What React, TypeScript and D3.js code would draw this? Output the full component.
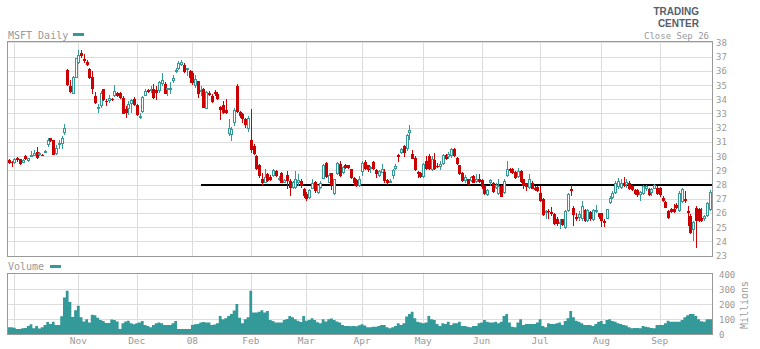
import React from "react";
import * as d3 from "d3";

// ---- Data (MSFT daily, Sep 27 2007 – Sep 26 2008) ----
const opens = [
  29.75, 29.6, 29.5, 29.85, 29.77, 29.55, 30.0, 29.65, 30.0, 30.0,
  30.3, 30.05, 30.1, 30.25, 30.75, 31.25, 31.1, 30.15, 30.77, 30.85,
  31.6, 36.06, 34.93, 34.4, 35.5, 36.58, 37.23, 36.8, 36.62, 36.1,
  35.6, 34.2, 33.38, 33.5, 34.7, 33.9, 33.88, 34.0, 34.23, 34.42,
  34.47, 34.11, 33.3, 33.3, 33.66, 34.0, 33.57, 32.78, 33.1, 34.23,
  34.63, 34.58, 34.75, 34.65, 34.58, 35.1, 35.1, 34.7, 34.65, 35.29,
  35.92, 36.1, 36.41, 36.39, 36.13, 35.98, 35.87, 34.93, 35.29, 34.5,
  34.75, 33.34, 34.47, 34.23, 34.51, 34.4, 33.43, 33.57, 33.24, 31.53,
  31.5, 32.35, 34.93, 33.1, 32.94, 32.58, 31.88, 31.1, 30.7, 30.0,
  29.35, 28.41, 28.13, 28.71, 28.55, 28.6, 28.95, 28.41, 28.83, 28.13,
  28.64, 28.24, 27.77, 27.77, 28.13, 28.24, 27.72, 27.35, 27.07, 27.7,
  28.17, 27.38, 27.77, 28.41, 29.49, 28.13, 28.78, 27.3, 28.71, 29.42,
  28.78, 29.37, 29.35, 29.07, 28.48, 28.31, 27.89, 28.88, 29.6, 29.35,
  29.2, 29.6, 29.0, 28.6, 28.83, 28.9, 28.31, 28.13, 28.6, 29.11,
  30.05, 30.2, 30.7, 30.47, 31.65, 30.12, 29.89, 28.88, 28.83, 28.55,
  29.65, 30.0, 29.02, 29.72, 29.3, 29.25, 29.42, 30.05, 29.96, 30.0,
  30.52, 29.89, 29.35, 28.83, 28.24, 28.36, 28.24, 28.6, 28.17, 28.41,
  28.31, 27.94, 27.26, 28.13, 28.13, 27.77, 27.3, 27.89, 27.38, 28.6,
  29.11, 29.11, 28.88, 28.55, 28.95, 28.36, 28.08, 27.77, 28.13, 27.75,
  27.82, 27.38, 27.0, 26.0, 26.15, 26.05, 25.9, 25.6, 25.2, 25.55,
  24.96, 26.13, 27.66, 26.37, 25.7, 25.66, 25.54, 26.2, 25.42, 26.06,
  25.5, 26.06, 25.97, 25.97, 25.42, 25.6, 26.67, 27.07, 27.38, 27.85,
  27.77, 28.08, 27.98, 28.08, 27.89, 27.61, 27.61, 27.23, 27.3, 27.66,
  27.66, 27.38, 27.7, 27.75, 27.75, 27.07, 26.79, 26.13, 26.25, 26.25,
  26.53, 26.13, 26.77, 26.96, 26.13, 25.78, 24.8, 26.37, 26.3, 25.66,
  25.54, 25.78, 26.2,
];
const highs = [
  29.8, 29.65, 29.85, 29.95, 29.8, 29.8, 30.05, 29.9, 30.35, 30.4,
  30.65, 30.3, 30.15, 30.4, 31.3, 31.3, 31.15, 30.75, 31.1, 31.4,
  32.25, 36.1, 35.35, 35.65, 36.9, 37.5, 37.5, 37.15, 36.75, 36.2,
  36.0, 34.5, 33.65, 34.58, 34.75, 34.05, 34.27, 34.1, 34.98, 34.5,
  34.5, 34.2, 33.53, 33.88, 34.0, 34.18, 33.64, 33.0, 34.23, 34.7,
  34.75, 34.93, 35.05, 34.93, 35.3, 35.87, 35.22, 34.82, 35.22, 35.7,
  36.23, 36.7, 36.74, 36.58, 36.2, 36.06, 35.99, 35.69, 35.29, 34.9,
  34.8, 34.58, 34.58, 34.35, 34.65, 34.5, 33.53, 33.88, 34.04, 32.58,
  32.07, 33.4, 35.05, 33.18, 33.06, 32.7, 32.82, 33.3, 30.82, 30.05,
  29.42, 28.8, 29.11, 28.8, 28.64, 29.1, 29.0, 28.6, 28.88, 28.36,
  28.95, 28.41, 28.24, 28.95, 28.71, 28.36, 27.77, 27.47, 27.66, 28.36,
  28.24, 28.0, 28.24, 29.42, 29.58, 28.83, 28.83, 28.41, 29.58, 29.65,
  29.3, 29.42, 29.4, 29.11, 28.53, 28.41, 28.6, 29.65, 29.7, 29.4,
  29.3, 29.65, 29.07, 29.0, 29.42, 29.07, 28.36, 28.36, 29.11, 29.42,
  30.12, 30.6, 30.75, 31.53, 32.16, 30.4, 30.0, 28.95, 28.88, 29.54,
  30.0, 30.12, 30.0, 30.2, 29.5, 29.65, 30.12, 30.12, 30.28, 30.6,
  30.6, 29.96, 29.4, 28.88, 28.64, 28.41, 28.6, 28.64, 28.71, 28.71,
  28.36, 28.0, 27.66, 28.36, 28.17, 28.13, 28.36, 27.94, 28.36, 29.65,
  29.18, 29.16, 28.95, 29.18, 29.02, 28.41, 28.13, 28.71, 28.24, 27.89,
  27.89, 27.89, 27.07, 26.2, 26.25, 26.4, 26.0, 25.7, 25.6, 25.6,
  26.2, 27.38, 27.94, 26.49, 26.0, 26.13, 26.84, 26.25, 26.25, 26.13,
  26.25, 26.53, 26.0, 26.0, 25.54, 26.3, 27.19, 27.54, 28.24, 28.48,
  28.41, 28.55, 28.36, 28.24, 27.94, 27.66, 27.66, 27.54, 27.96, 28.0,
  27.77, 27.77, 28.06, 27.89, 27.82, 27.19, 26.84, 26.2, 26.37, 26.6,
  26.72, 27.54, 27.77, 27.54, 26.48, 25.9, 25.42, 26.48, 26.37, 26.37,
  25.83, 26.77, 27.61,
];
const lows = [
  29.45, 29.23, 29.45, 29.6, 29.35, 29.5, 29.75, 29.6, 29.98, 29.98,
  29.8, 29.98, 29.98, 30.2, 30.65, 31.0, 30.05, 30.1, 30.5, 30.5,
  31.5, 34.93, 34.46, 34.38, 35.5, 36.5, 36.93, 36.58, 36.35, 35.4,
  34.4, 33.7, 33.05, 33.4, 33.9, 33.5, 33.76, 33.85, 34.18, 34.18,
  34.04, 32.94, 32.65, 32.87, 33.0, 33.52, 32.82, 32.6, 33.06, 34.2,
  34.47, 34.47, 34.0, 33.95, 34.47, 34.93, 34.35, 34.23, 34.35, 35.17,
  35.87, 36.06, 36.35, 35.87, 35.64, 35.17, 34.98, 34.82, 34.11, 34.2,
  33.35, 33.29, 34.23, 33.76, 34.23, 33.95, 32.52, 32.94, 32.94, 31.41,
  31.06, 32.12, 33.06, 32.7, 32.35, 32.0, 31.7, 30.24, 30.05, 29.0,
  28.48, 27.9, 28.08, 28.15, 28.24, 28.55, 28.5, 28.24, 28.08, 28.08,
  27.66, 27.19, 27.66, 27.72, 27.89, 27.77, 27.07, 26.84, 27.0, 27.66,
  27.42, 27.3, 27.7, 28.36, 28.48, 28.08, 27.61, 27.26, 28.64, 28.55,
  28.71, 29.1, 29.1, 28.41, 27.89, 27.85, 27.85, 28.6, 29.0, 28.9,
  28.83, 29.0, 28.48, 28.55, 28.78, 28.13, 27.97, 28.08, 28.36, 29.0,
  29.58, 30.12, 29.96, 30.36, 31.13, 29.77, 28.95, 28.48, 28.48, 28.48,
  29.02, 29.0, 28.95, 29.02, 29.18, 29.02, 29.35, 29.72, 29.82, 29.89,
  29.96, 29.35, 28.64, 28.17, 28.08, 27.97, 28.17, 28.08, 28.08, 28.08,
  27.72, 27.23, 27.19, 27.89, 27.42, 27.66, 27.23, 27.1, 27.3, 28.55,
  28.83, 28.71, 28.41, 28.48, 28.13, 27.72, 27.54, 27.7, 27.66, 27.54,
  27.47, 26.77, 25.78, 25.55, 25.6, 25.8, 25.12, 25.1, 24.9, 25.05,
  24.9, 26.1, 27.19, 25.07, 25.4, 25.42, 25.42, 25.37, 25.35, 25.42,
  25.42, 26.0, 25.6, 25.03, 25.03, 25.54, 26.6, 27.0, 27.3, 27.7,
  27.66, 27.85, 27.77, 27.6, 27.54, 27.23, 27.14, 26.84, 27.23, 27.54,
  27.19, 27.19, 27.66, 27.23, 27.14, 26.77, 26.32, 25.6, 26.0, 26.0,
  26.25, 26.06, 26.72, 26.72, 25.07, 24.53, 24.03, 23.55, 25.35, 25.35,
  25.42, 25.72, 26.13,
];
const closes = [
  29.5, 29.5, 29.8, 29.72, 29.42, 29.72, 29.8, 29.88, 30.05, 30.25,
  29.9, 30.2, 30.02, 30.35, 31.13, 31.05, 30.1, 30.55, 30.95, 31.3,
  32.0, 34.98, 34.53, 35.6, 36.88, 37.1, 37.05, 36.7, 36.4, 35.47,
  34.75, 33.76, 33.45, 34.45, 33.95, 33.8, 34.1, 33.92, 34.58, 34.23,
  34.11, 32.98, 33.0, 33.67, 33.95, 33.62, 32.9, 32.82, 34.18, 34.58,
  34.54, 34.7, 34.06, 34.46, 35.22, 35.33, 34.4, 34.8, 34.82, 35.52,
  36.06, 36.58, 36.65, 35.94, 36.17, 35.52, 35.12, 35.4, 34.35, 34.62,
  33.41, 34.51, 34.3, 33.83, 34.4, 34.0, 33.24, 33.0, 33.0, 32.0,
  31.93, 33.23, 33.1, 32.82, 32.58, 32.16, 32.68, 30.4, 30.12, 29.11,
  28.6, 28.08, 28.55, 28.24, 28.31, 29.0, 28.6, 28.48, 28.13, 28.29,
  28.24, 27.77, 28.17, 28.41, 28.31, 27.89, 27.19, 27.0, 27.6, 28.08,
  27.54, 27.94, 28.08, 29.35, 28.55, 28.64, 28.0, 28.36, 29.49, 28.6,
  29.2, 29.16, 29.16, 28.48, 28.08, 27.89, 28.41, 29.54, 29.11, 29.0,
  29.25, 29.07, 28.71, 28.95, 29.11, 28.24, 28.08, 28.24, 29.0, 29.3,
  29.96, 30.47, 30.24, 31.46, 31.81, 29.82, 29.02, 28.71, 28.55, 29.42,
  29.07, 29.07, 29.82, 29.11, 29.25, 29.42, 30.05, 29.82, 30.12, 30.52,
  30.0, 29.42, 28.71, 28.24, 28.55, 28.06, 28.55, 28.13, 28.41, 28.17,
  27.82, 27.3, 27.61, 28.31, 27.47, 27.94, 27.89, 27.14, 28.24, 29.11,
  28.95, 28.78, 28.48, 28.95, 28.17, 27.89, 27.85, 28.36, 27.72, 27.61,
  27.54, 26.84, 25.83, 26.15, 26.05, 25.9, 25.2, 25.2, 25.35, 25.12,
  26.13, 27.3, 27.54, 25.83, 25.6, 25.9, 26.48, 25.42, 26.2, 25.54,
  26.2, 26.2, 25.7, 25.42, 25.3, 26.25, 27.07, 27.42, 28.13, 28.24,
  28.13, 27.89, 28.17, 27.7, 27.61, 27.3, 27.23, 27.47, 27.89, 27.89,
  27.23, 27.7, 27.96, 27.3, 27.23, 26.84, 26.37, 25.66, 26.06, 26.06,
  26.37, 27.42, 27.66, 26.84, 26.01, 24.6, 25.35, 25.42, 25.42, 25.42,
  25.78, 26.72, 27.47,
];
// Volume in millions of shares
const volumes = [
  47, 47, 44, 36, 36, 40, 42, 55, 67, 40,
  55, 38, 47, 62, 82, 69, 84, 62, 62, 120,
  245, 290, 215, 115, 160, 190, 113, 85, 100, 78,
  130, 127, 110, 95, 88, 75, 75, 98, 96, 85,
  35, 73, 85, 91, 73, 67, 73, 78, 89, 62,
  56, 47, 62, 73, 78, 73, 62, 62, 62, 73,
  89, 36, 36, 36, 36, 36, 62, 67, 69, 78,
  82, 78, 78, 62, 65, 73, 122, 100, 107, 122,
  135, 158, 202, 110, 73, 100, 113, 290, 145, 145,
  150, 160, 145, 155, 96, 89, 78, 78, 78, 96,
  102, 122, 113, 100, 91, 82, 122, 91, 96, 107,
  96, 80, 73, 100, 85, 100, 105, 96, 85, 78,
  62, 56, 56, 53, 56, 53, 60, 67, 58, 47,
  47, 51, 51, 55, 62, 62, 47, 40, 47, 55,
  73, 62, 73, 118, 135, 151, 107, 84, 78, 73,
  78, 122, 100, 96, 69, 55, 73, 69, 84, 62,
  73, 73, 84, 55, 55, 51, 47, 55, 55, 73,
  78, 96, 84, 78, 78, 84, 73, 84, 122, 136,
  78, 51, 47, 78, 100, 62, 69, 69, 69, 69,
  78, 100, 55, 47, 73, 69, 69, 73, 78, 62,
  89, 107, 156, 113, 91, 84, 73, 62, 62, 62,
  55, 69, 84, 89, 69, 96, 100, 89, 84, 73,
  69, 62, 58, 47, 40, 42, 42, 40, 55, 51,
  47, 42, 40, 62, 62, 62, 73, 91, 84, 84,
  84, 84, 96, 113, 127, 136, 136, 122, 100, 87,
  84, 100, 100,
];

// Month gridlines (trading-day index) and their labels
const monthIndex = [2, 25, 46, 66, 87, 107, 127, 149, 170, 191, 213, 234];
const monthLabels = ["", "Nov", "Dec", "08", "Feb", "Mar", "Apr", "May", "Jun", "Jul", "Aug", "Sep"];
const priceTicks = [23, 24, 25, 26, 27, 28, 29, 30, 31, 32, 33, 34, 35, 36, 37, 38];
const volumeTicks = [0, 100, 200, 300, 400];
const supportLevel = 28;
const supportStartIndex = 69;

const RED = "#cc0000";
const TEAL = "#339999";
const GRID = "#dddddd";
const FRAME = "#999999";
const TEXT = "#999999";
const MONO = "'DejaVu Sans Mono', monospace";

export default function App() {
  const n = closes.length;
  const left = 7.5;
  const right = 712;
  const pTop = 41.5;
  const pBottom = 256;
  const vTop = 273.5;
  const vBottom = 334.5;

  const x = d3.scaleLinear().domain([0, n - 1]).range([8.75, 709.8]);
  const y = d3.scaleLinear().domain([23, 38]).range([255.6, 42.4]);
  const yv = d3.scaleLinear().domain([0, 400]).range([334.3, 274.3]);

  const volPts: [number, number][] = [
    [left, volumes[0]],
    ...volumes.map((v, i) => [x(i), v] as [number, number]),
    [right, volumes[n - 1]],
  ];
  const volArea = d3
    .area<[number, number]>()
    .x((d) => d[0])
    .y0(yv(0))
    .y1((d) => yv(d[1]))
    .curve(d3.curveStep)(volPts);

  const px = (v: number) => Math.round(v) + 0.5;

  return (
    <svg
      width={760}
      height={349}
      style={{ position: "absolute", left: 0, top: 0, background: "#fff" }}
      fontFamily={MONO}
    >
      {/* header */}
      <text x={699} y={15} textAnchor="end" fontFamily="'Liberation Sans', Arial, sans-serif" fontWeight="bold" fontSize={10} fill="#55606b">
        TRADING
      </text>
      <text x={699} y={27} textAnchor="end" fontFamily="'Liberation Sans', Arial, sans-serif" fontWeight="bold" fontSize={10} fill="#55606b">
        CENTER
      </text>
      <text x={709} y={38.5} textAnchor="end" fontSize={9} fill={TEXT}>
        Close Sep 26
      </text>
      <text x={8} y={38.5} fontSize={10} fill={TEXT}>
        MSFT Daily
      </text>
      <rect x={73} y={33} width={11} height={3} fill={TEAL} />

      {/* price grid */}
      <g shapeRendering="crispEdges">
        {priceTicks.map((t) => (
          <line key={"pg" + t} x1={left} x2={right} y1={px(y(t))} y2={px(y(t))} stroke={GRID} />
        ))}
        {monthIndex.map((m) => (
          <line key={"mg" + m} x1={px(x(m))} x2={px(x(m))} y1={pTop} y2={pBottom} stroke={GRID} />
        ))}
      </g>

      {/* support line */}
      <line
        x1={x(supportStartIndex)}
        x2={right}
        y1={y(supportLevel)}
        y2={y(supportLevel)}
        stroke="#000"
        strokeWidth={2}
        shapeRendering="crispEdges"
      />

      {/* candles */}
      <g shapeRendering="crispEdges">
        {closes.map((c, i) => {
          const o = opens[i];
          const up = c >= o;
          const cx = px(x(i));
          const col = up ? TEAL : RED;
          const yTop = Math.round(y(Math.max(o, c)));
          const yBot = Math.round(y(Math.min(o, c)));
          const hBody = Math.max(1, yBot - yTop);
          return (
            <g key={"c" + i}>
              <line x1={cx} x2={cx} y1={Math.round(y(highs[i]))} y2={Math.round(y(lows[i]))} stroke={col} />
              {up ? (
                <rect x={cx - 1} y={yTop + 0.5} width={2} height={Math.max(1, hBody - 1)} fill="#fff" stroke={col} />
              ) : (
                <rect x={cx - 1.5} y={yTop} width={3} height={hBody} fill={col} />
              )}
            </g>
          );
        })}
      </g>

      {/* price frame */}
      <rect x={left} y={pTop} width={right - left} height={pBottom - pTop} fill="none" stroke={FRAME} shapeRendering="crispEdges" />

      {/* price axis labels */}
      {priceTicks.map((t) => (
        <text key={"pl" + t} x={716} y={y(t) + 3.5} fontSize={9} fill={TEXT}>
          {t}
        </text>
      ))}

      {/* volume panel */}
      <text x={8} y={270} fontSize={10} fill={TEXT}>
        Volume
      </text>
      <rect x={50} y={265} width={11} height={3} fill={TEAL} />
      <g shapeRendering="crispEdges">
        {volumeTicks.slice(1, 4).map((t) => (
          <line key={"vg" + t} x1={left} x2={right} y1={px(yv(t))} y2={px(yv(t))} stroke={GRID} />
        ))}
        {monthIndex.map((m) => (
          <line key={"vm" + m} x1={px(x(m))} x2={px(x(m))} y1={vTop} y2={vBottom} stroke={GRID} />
        ))}
      </g>
      <path d={volArea ?? ""} fill={TEAL} />
      <rect x={left} y={vTop} width={right - left} height={vBottom - vTop} fill="none" stroke={FRAME} shapeRendering="crispEdges" />
      {volumeTicks.map((t) => (
        <text key={"vl" + t} x={719} y={yv(t) + 3.5} fontSize={9} fill={TEXT}>
          {t}
        </text>
      ))}
      <text
        transform="translate(748,305) rotate(-90)"
        textAnchor="middle"
        fontSize={10}
        fill={TEXT}
      >
        Millions
      </text>

      {/* month labels */}
      {monthIndex.map((m, k) =>
        monthLabels[k] ? (
          <text key={"ml" + m} x={x(m)} y={344} textAnchor="middle" fontSize={9.5} fill={TEXT}>
            {monthLabels[k]}
          </text>
        ) : null
      )}
    </svg>
  );
}
